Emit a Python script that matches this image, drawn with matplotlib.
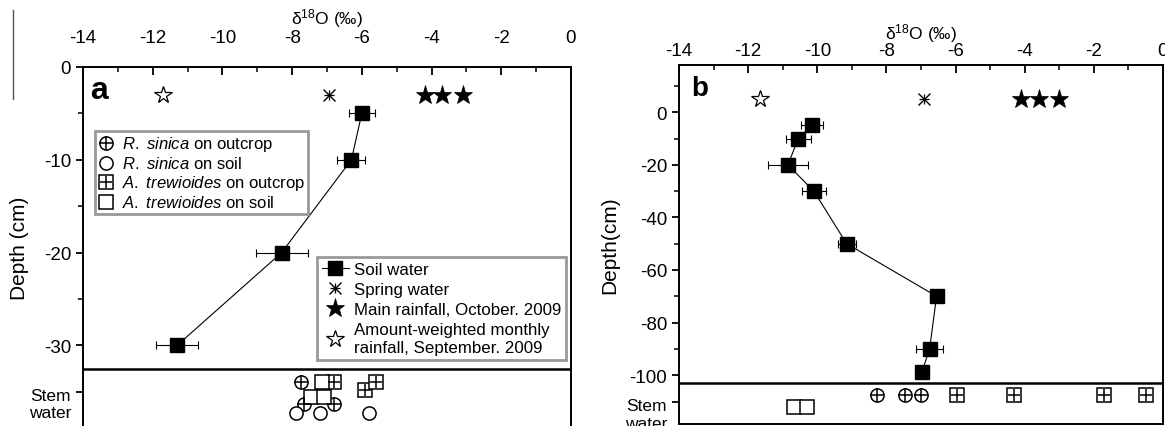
import numpy as np
import matplotlib
matplotlib.use("Agg")
import matplotlib.pyplot as plt
from matplotlib.lines import Line2D
from matplotlib.ticker import MultipleLocator, FixedLocator
import matplotlib.transforms as mtransforms

plt.rcParams['font.family'] = ['Liberation Sans', 'DejaVu Sans']
plt.rcParams['mathtext.fontset'] = 'custom'
plt.rcParams['mathtext.rm'] = 'Liberation Sans'
plt.rcParams['mathtext.it'] = 'Liberation Sans:italic'
plt.rcParams['axes.unicode_minus'] = False

# ---- panel a data ----
a_depth = [-5, -10, -20, -30]
a_soil = [-6.0, -6.3, -8.3, -11.3]
a_soil_err = [0.38, 0.4, 0.75, 0.6]
a_star_y = -3
a_rain_main = [-4.2, -3.7, -3.1]
a_rain_weighted = [-11.7]
a_spring = [-6.95]
# stem water (x, y) in the lower strip
a_rs_out_x = [-7.75, -7.65, -6.8]
a_rs_out_y = [-34.0, -36.3, -36.3]
a_rs_soil_x = [-7.9, -7.2, -5.8]
a_rs_soil_y = [-37.3, -37.3, -37.3]
a_at_out_x = [-6.8, -5.9, -5.6]
a_at_out_y = [-34.0, -34.8, -34.0]
a_at_soil_x = [-7.15, -7.45, -7.1]
a_at_soil_y = [-34.0, -35.6, -35.6]

# ---- panel b data ----
b_depth = [-5, -10, -20, -30, -50, -70, -90, -99]
b_soil = [-10.15, -10.55, -10.85, -10.1, -9.15, -6.55, -6.75, -6.98]
b_soil_err = [0.31, 0.36, 0.57, 0.35, 0.26, 0.19, 0.39, 0.0]
b_star_y = 5
b_rain_main = [-4.1, -3.6, -3.0]
b_rain_weighted = [-11.65]
b_spring = [-6.9]
b_rs_out_x = [-8.27, -7.45, -7.0]
b_rs_out_y = [-107.6, -107.6, -107.6]
b_at_out_x = [-5.97, -4.3, -1.7, -0.5]
b_at_out_y = [-107.6, -107.6, -107.6, -107.6]
b_at_soil_x = [-10.67, -10.3]
b_at_soil_y = [-112.0, -112.0]

W, H = 1165, 427
fig = plt.figure(figsize=(W / 100, H / 100), dpi=100)


def px_axes(l, r, t, b):
    return fig.add_axes([l / W, 1 - b / H, (r - l) / W, (b - t) / H])


axa = px_axes(83, 571, 68, 428)
axb = px_axes(679, 1163, 66, 425)

ms_sq = 10
ms_stem = 9.5


def spring(ax, x, y, ms=9):
    ax.plot(x, [y] * len(x), 'x', color='k', ms=ms, mew=1.0, zorder=5)
    ax.plot(x, [y] * len(x), '+', color='k', ms=ms * 0.85, mew=0.9, zorder=5)


def stem(ax, ox, oy, sx, sy, aox, aoy, asx, asy):
    if ox:
        ax.plot(ox, oy, 'o', ms=ms_stem, mfc='white', mec='k', mew=1.1, zorder=4)
        ax.plot(ox, oy, '+', ms=ms_stem, mec='k', mew=1.1, zorder=5)
    if sx:
        ax.plot(sx, sy, 'o', ms=ms_stem, mfc='white', mec='k', mew=1.1, zorder=4)
    if aox:
        ax.plot(aox, aoy, 's', ms=ms_stem, mfc='white', mec='k', mew=1.1, zorder=4)
        ax.plot(aox, aoy, '+', ms=ms_stem * 0.95, mec='k', mew=1.1, zorder=5)
    if asx:
        ax.plot(asx, asy, 's', ms=ms_stem, mfc='white', mec='k', mew=1.1, zorder=4)


def style(ax, ylim, ymajor, yminor, stem_y, tickpad):
    ax.set_xlim(-14, 0)
    ax.set_ylim(*ylim)
    ax.xaxis.tick_top()
    ax.xaxis.set_label_position('top')
    ax.xaxis.set_major_locator(MultipleLocator(2))
    ax.xaxis.set_minor_locator(MultipleLocator(1))
    ax.tick_params(axis='x', which='both', direction='in', top=True, bottom=False,
                   labelsize=13.5, pad=tickpad)
    ax.tick_params(axis='x', which='major', length=6, width=1.3)
    ax.tick_params(axis='x', which='minor', length=3.5, width=1.1)
    ax.yaxis.set_major_locator(FixedLocator(ymajor + [stem_y]))
    ax.set_yticklabels([f'{v:d}' for v in ymajor] + ['Stem\nwater'])
    ax.yaxis.set_minor_locator(FixedLocator(yminor))
    ax.tick_params(axis='y', which='both', direction='out', right=False, labelsize=13.5)
    ax.tick_params(axis='y', which='major', length=5, width=1.3)
    ax.tick_params(axis='y', which='minor', length=3.5, width=1.1)
    lab = ax.get_yticklabels()[-1]
    lab.set_multialignment('center')
    lab.set_fontsize(12.5)
    lab.set_transform(lab.get_transform() +
                      mtransforms.ScaledTranslation(0, -7 / 72, fig.dpi_scale_trans))
    for s in ax.spines.values():
        s.set_linewidth(1.4)
    ax.set_xlabel('δ$^{18}$O (‰)', fontsize=12.5)


# ---------------- panel a ----------------
style(axa, (-38.8, 0), [0, -10, -20, -30], [-5, -15, -25], -35, 15)
axa.xaxis.labelpad = 4
axa.axhline(-32.5, color='k', lw=1.8)
axa.errorbar(a_soil, a_depth, xerr=a_soil_err, fmt='s-', color='k', ms=ms_sq,
             lw=0.8, elinewidth=0.8, capsize=3, capthick=0.8, zorder=3)
axa.plot(a_rain_main, [a_star_y] * 3, '*', color='k', ms=14, mew=0.5)
axa.plot(a_rain_weighted, [a_star_y], '*', mfc='white', mec='k', ms=13, mew=0.9)
spring(axa, a_spring, a_star_y)
stem(axa, a_rs_out_x, a_rs_out_y, a_rs_soil_x, a_rs_soil_y,
     a_at_out_x, a_at_out_y, a_at_soil_x, a_at_soil_y)
axa.set_ylabel('Depth (cm)', fontsize=15, labelpad=0)
axa.text(0.015, 0.935, 'a', transform=axa.transAxes, fontsize=23, fontweight='bold',
         va='center', ha='left')

h_out = (Line2D([], [], ls='none', marker='o', ms=ms_stem, mfc='white', mec='k', mew=1.1),
         Line2D([], [], ls='none', marker='+', ms=ms_stem, mec='k', mew=1.1))
h_soil = Line2D([], [], ls='none', marker='o', ms=ms_stem, mfc='white', mec='k', mew=1.1)
h_aout = (Line2D([], [], ls='none', marker='s', ms=ms_stem, mfc='white', mec='k', mew=1.1),
          Line2D([], [], ls='none', marker='+', ms=ms_stem * 0.95, mec='k', mew=1.1))
h_asoil = Line2D([], [], ls='none', marker='s', ms=ms_stem, mfc='white', mec='k', mew=1.1)
leg1 = axa.legend([h_out, h_soil, h_aout, h_asoil],
                  [r'$\mathit{R.\ sinica}$ on outcrop', r'$\mathit{R.\ sinica}$ on soil',
                   r'$\mathit{A.\ trewioides}$ on outcrop', r'$\mathit{A.\ trewioides}$ on soil'],
                  loc='upper left', bbox_to_anchor=(0.025, 0.822), fontsize=12,
                  handlelength=0.9, handletextpad=0.5, labelspacing=0.12,
                  borderpad=0.2, borderaxespad=0, fancybox=False, framealpha=1)
leg1.get_frame().set_edgecolor('#999999')
leg1.get_frame().set_linewidth(2)
axa.add_artist(leg1)

h_sw = Line2D([], [], color='k', lw=0.8, marker='s', ms=ms_sq)
h_sp = (Line2D([], [], ls='none', marker='x', color='k', ms=9, mew=1.0),
        Line2D([], [], ls='none', marker='+', color='k', ms=7.6, mew=0.9))
h_mr = Line2D([], [], ls='none', marker='*', color='k', ms=14, mew=0.5)
h_wr = Line2D([], [], ls='none', marker='*', mfc='white', mec='k', ms=13, mew=0.9)
leg2 = axa.legend([h_sw, h_sp, h_mr, h_wr],
                  ['Soil water', 'Spring water', 'Main rainfall, October. 2009',
                   'Amount-weighted monthly\nrainfall, September. 2009'],
                  loc='upper right', bbox_to_anchor=(0.99, 0.472), fontsize=12.2,
                  handlelength=1.6, handletextpad=0.3, labelspacing=0.3,
                  borderpad=0.3, borderaxespad=0, fancybox=False, framealpha=1)
leg2.get_frame().set_edgecolor('#999999')
leg2.get_frame().set_linewidth(2)

# ---------------- panel b ----------------
style(axb, (-118.6, 18), [0, -20, -40, -60, -80, -100],
      [10, -10, -30, -50, -70, -90], -110.3, 4)
axb.xaxis.labelpad = 3
axb.axhline(-103, color='k', lw=1.8)
axb.errorbar(b_soil, b_depth, xerr=b_soil_err, fmt='s-', color='k', ms=ms_sq,
             lw=0.8, elinewidth=0.8, capsize=3, capthick=0.8, zorder=3)
axb.plot(b_rain_main, [b_star_y] * 3, '*', color='k', ms=14, mew=0.5)
axb.plot(b_rain_weighted, [b_star_y], '*', mfc='white', mec='k', ms=13, mew=0.9)
spring(axb, b_spring, b_star_y)
stem(axb, b_rs_out_x, b_rs_out_y, None, None,
     b_at_out_x, b_at_out_y, b_at_soil_x, b_at_soil_y)
axb.set_ylabel('Depth(cm)', fontsize=15, labelpad=4)
axb.text(0.025, 0.935, 'b', transform=axb.transAxes, fontsize=20, fontweight='bold',
         va='center', ha='left')

# thin page edge line at top left
fig.add_artist(Line2D([13 / W, 13 / W], [1 - 11 / H, 1 - 100 / H], color='#555555', lw=1))

fig.savefig('out.png', dpi=100)
